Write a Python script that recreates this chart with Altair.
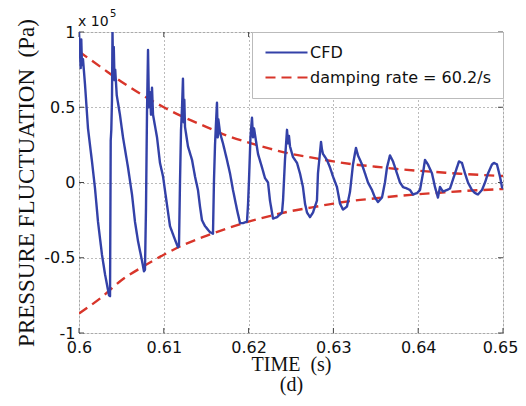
import altair as alt
import pandas as pd

# ---------------- data ----------------
series_names = ["CFD", "damping rate = 60.2/s"]

cfd_t = [
    0.60000, 0.60020, 0.60027, 0.60035, 0.60047, 0.60071, 0.60106, 0.60153, 0.60189, 0.60224, 0.60271, 0.60307, 0.60354, 0.60366,
    0.60374, 0.60381, 0.60389, 0.60395, 0.60403, 0.60410, 0.60419, 0.60427, 0.60445, 0.60483, 0.60519, 0.60578, 0.60625, 0.60660, 0.60696, 0.60743, 0.60766, 0.60778,
    0.60790, 0.60802, 0.60814, 0.60825, 0.60837, 0.60849, 0.60861, 0.60873, 0.60920, 0.60955, 0.60991, 0.61038, 0.61073, 0.61132, 0.61167, 0.61179,
    0.61191, 0.61203, 0.61215, 0.61226, 0.61235, 0.61242, 0.61250, 0.61285, 0.61333, 0.61368, 0.61403, 0.61427, 0.61450, 0.61486, 0.61545, 0.61580,
    0.61592, 0.61604, 0.61616, 0.61627, 0.61636, 0.61643, 0.61663, 0.61698, 0.61745, 0.61781, 0.61816, 0.61863, 0.61899, 0.61934, 0.61981,
    0.61993, 0.62005, 0.62022, 0.62040, 0.62052, 0.62064, 0.62075, 0.62111, 0.62158, 0.62193, 0.62229, 0.62252, 0.62276, 0.62288, 0.62335, 0.62394,
    0.62406, 0.62429, 0.62453, 0.62465, 0.62476, 0.62488, 0.62523, 0.62571, 0.62606, 0.62641, 0.62665, 0.62689, 0.62724, 0.62759,
    0.62806, 0.62818, 0.62854, 0.62865, 0.62877, 0.62924, 0.62960, 0.62995, 0.63042, 0.63078, 0.63113, 0.63160, 0.63196,
    0.63231, 0.63266, 0.63290, 0.63337, 0.63373, 0.63408, 0.63455, 0.63490, 0.63526, 0.63573, 0.63608,
    0.63632, 0.63667, 0.63703, 0.63750, 0.63785, 0.63821, 0.63868, 0.63903, 0.63939, 0.63986, 0.64021,
    0.64056, 0.64080, 0.64115, 0.64163, 0.64198, 0.64233, 0.64257, 0.64292, 0.64339, 0.64375, 0.64410,
    0.64457, 0.64481, 0.64516, 0.64552, 0.64587, 0.64634, 0.64670, 0.64705, 0.64752, 0.64788,
    0.64823, 0.64870, 0.64894, 0.64929, 0.64964, 0.64988, 0.65000,
]
cfd_v = [
    1.00, 0.76, 0.95, 0.78, 0.82, 0.65, 0.36, 0.14, -0.04, -0.26, -0.48, -0.61, -0.75, -0.755,
    0.28, 0.35, 0.55, 1.00, 0.72, 0.90, 0.68, 0.75, 0.58, 0.45, 0.30, 0.10, -0.08, -0.26, -0.39, -0.52, -0.59, -0.58,
    -0.17, 0.47, 0.88, 0.50, 0.60, 0.45, 0.63, 0.45, 0.30, 0.13, 0.04, -0.15, -0.29, -0.38, -0.43, -0.42,
    0.00, 0.35, 0.50, 0.69, 0.40, 0.55, 0.37, 0.24, 0.15, 0.04, -0.05, -0.16, -0.25, -0.29, -0.33, -0.34,
    0.02, 0.25, 0.40, 0.53, 0.30, 0.42, 0.33, 0.26, 0.15, 0.06, -0.05, -0.18, -0.27, -0.27, -0.26,
    -0.15, 0.02, 0.30, 0.43, 0.30, 0.36, 0.32, 0.19, 0.10, 0.03, 0.00, -0.12, -0.20, -0.24, -0.23, -0.20,
    -0.12, 0.15, 0.35, 0.26, 0.31, 0.24, 0.17, 0.13, 0.06, -0.03, -0.14, -0.20, -0.23, -0.20,
    -0.12, 0.06, 0.27, 0.22, 0.19, 0.15, 0.10, 0.04, -0.03, -0.14, -0.18, -0.16, -0.06,
    0.12, 0.23, 0.18, 0.12, 0.06, 0.00, -0.05, -0.10, -0.13, -0.10, 0.00,
    0.10, 0.18, 0.14, 0.06, 0.00, -0.03, -0.04, -0.05, -0.08, -0.07, -0.05,
    0.06, 0.15, 0.12, 0.06, -0.03, -0.10, -0.03, -0.06, -0.05, -0.04, 0.02,
    0.10, 0.14, 0.13, 0.06, 0.00, -0.05, -0.07, -0.08, -0.05, 0.00,
    0.06, 0.12, 0.13, 0.12, 0.04, -0.03, -0.04,
]

env_t = [0.6, 0.6025, 0.605, 0.6075, 0.61, 0.6125, 0.615, 0.6175, 0.62, 0.6225, 0.625,
         0.6275, 0.63, 0.6325, 0.635, 0.6375, 0.64, 0.6425, 0.645, 0.6475, 0.65]
env_upper = [0.87, 0.77, 0.67, 0.58, 0.50, 0.43, 0.37, 0.31, 0.265, 0.225, 0.19,
             0.165, 0.14, 0.12, 0.105, 0.09, 0.078, 0.068, 0.058, 0.05, 0.043]
env_lower = [-0.87, -0.77, -0.65, -0.56, -0.48, -0.41, -0.355, -0.305, -0.26, -0.223, -0.19,
             -0.165, -0.14, -0.12, -0.105, -0.09, -0.078, -0.068, -0.058, -0.05, -0.043]

x_ticks = [0.6, 0.61, 0.62, 0.63, 0.64, 0.65]
y_ticks = [-1, -0.5, 0, 0.5, 1]

# ---------------- style ----------------
W, H = 424, 301
BLUE = "#3341a8"
RED = "#d8352a"
SANS = "DejaVu Sans"
SERIF = "Liberation Serif"

cfd_df = pd.DataFrame({"t": cfd_t, "v": cfd_v, "series": series_names[0], "part": "cfd"})
env_df = pd.concat([
    pd.DataFrame({"t": env_t, "v": env_upper, "series": series_names[1], "part": "upper"}),
    pd.DataFrame({"t": env_t, "v": env_lower, "series": series_names[1], "part": "lower"}),
])

x_scale = alt.Scale(domain=[0.6, 0.65], nice=False, zero=False)
y_scale = alt.Scale(domain=[-1, 1], nice=False, zero=False)

x_axis = alt.Axis(
    values=x_ticks, format=".2~f", ticks=False, domain=False,
    grid=True, gridDash=[1, 3], gridColor="#777", gridWidth=1,
    labelFont=SANS, labelFontSize=16, labelColor="#111", labelPadding=6, labelFlush=False,
    labelOffset={"condition": {"test": "datum.value >= 0.649", "value": -3}, "value": 0},
    title=["TIME\u00a0 (s)", "(d)"], titleFont=SERIF, titleFontSize=20, titleFontWeight="normal",
    titleColor="#111", titleLineHeight=20, titlePadding=-1,
)
y_axis = alt.Axis(
    values=y_ticks, labelExpr="'' + datum.value", ticks=False, domain=False,
    grid=True, gridDash=[1, 3], gridColor="#777", gridWidth=1,
    labelFont=SANS, labelFontSize=16, labelColor="#111", labelPadding=4, labelFlush=False,
    title="PRESSURE FLUCTUATION\u00a0 (Pa)", titleFont=SERIF, titleFontSize=23, titleFontWeight="normal",
    titleColor="#111", titlePadding=5,
)

legend = alt.Legend(title=None, orient="top-right", offset=0, padding=12,
                    fillColor="white", strokeColor="#bbbbbb",
                    labelFont=SANS, labelFontSize=16, labelColor="#111", labelLimit=0,
                    symbolType="M-1,0H5", symbolSize=196, symbolStrokeWidth=2.2,
                    labelOffset=29, rowPadding=8)

color = alt.Color("series:N", scale=alt.Scale(domain=series_names, range=[BLUE, RED]), legend=legend)
dash = alt.StrokeDash("series:N", scale=alt.Scale(domain=series_names, range=[[1, 0], [10, 6]]), legend=legend)

X = alt.X("t:Q", scale=x_scale, axis=x_axis)
Y = alt.Y("v:Q", scale=y_scale, axis=y_axis)

cfd_line = alt.Chart(cfd_df).mark_line(strokeWidth=2.4, strokeJoin="round", clip=True).encode(
    x=X, y=Y, color=color, strokeDash=dash, detail="part:N", order="t:Q"
)
env_line = alt.Chart(env_df).mark_line(strokeWidth=2.4, interpolate="monotone", clip=True).encode(
    x=X, y=Y, color=color, strokeDash=dash, detail="part:N"
)

xt = pd.DataFrame({"t": x_ticks})
yt = pd.DataFrame({"v": y_ticks})
tick_color = "#444"
xt_bottom = alt.Chart(xt).mark_rule(color=tick_color).encode(x=X, y=alt.value(H), y2=alt.value(H - 5))
xt_top = alt.Chart(xt).mark_rule(color=tick_color).encode(x=X, y=alt.value(0), y2=alt.value(5))
yt_left = alt.Chart(yt).mark_rule(color=tick_color).encode(y=Y, x=alt.value(0), x2=alt.value(5))
yt_right = alt.Chart(yt).mark_rule(color=tick_color).encode(y=Y, x=alt.value(W), x2=alt.value(W - 5))

exp_df = pd.DataFrame({"base": ["x 10"], "exp": ["5"]})
exp_base = alt.Chart(exp_df).mark_text(align="left", baseline="alphabetic", font=SANS, fontSize=14, color="#111").encode(
    x=alt.value(-1), y=alt.value(-6), text="base:N")
exp_sup = alt.Chart(exp_df).mark_text(align="left", baseline="alphabetic", font=SANS, fontSize=10, color="#111").encode(
    x=alt.value(31), y=alt.value(-15), text="exp:N")

chart = alt.layer(
    xt_bottom, xt_top, yt_left, yt_right, env_line, cfd_line, exp_base, exp_sup
).resolve_scale(color="shared", strokeDash="shared").properties(
    width=W, height=H,
    autosize=alt.AutoSizeParams(type="none"),
    padding={"left": 71, "top": 24, "right": 15, "bottom": 65},
).configure_view(stroke="#555", strokeWidth=1.2).configure(background="white")

chart.save("out.html", embed_options={"renderer": "svg", "actions": False})
